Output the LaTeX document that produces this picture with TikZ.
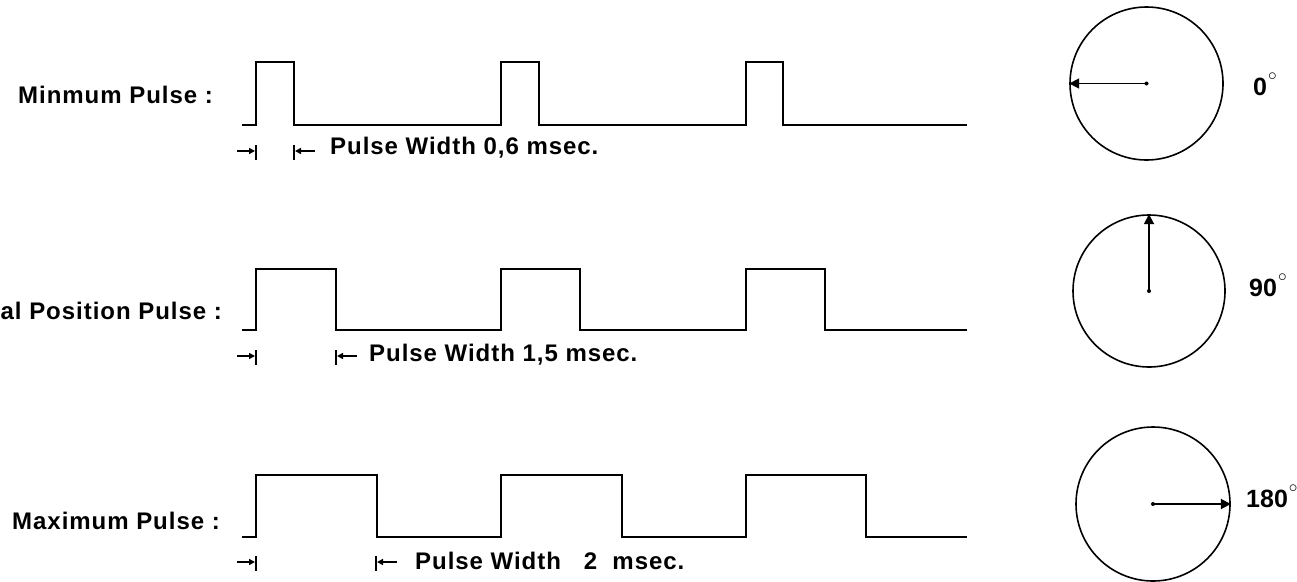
\documentclass[tikz,border=0pt]{standalone}
\usepackage{fontspec}
\setmainfont{Liberation Sans}
\newfontfamily\lblfont{Liberation Sans}[LetterSpace=4]
\usetikzlibrary{arrows.meta}
\tikzset{
  wave/.style={line width=2pt, line join=miter},
  dial/.style={circle, draw, line width=1.6pt, inner sep=0pt},
  needle/.style={line width=1.8pt, -{Triangle[length=10pt,width=10pt]}},
  hub/.style={circle, fill, inner sep=0pt, minimum size=4pt},
  widthmark/.style={line width=1.5pt, -{Triangle[length=6pt,width=6pt]}},
  markbar/.style={line width=1.5pt},
  lbl/.style={font=\lblfont\bfseries\fontsize{24}{26}\selectfont, inner sep=0pt},
  deg/.style={font=\bfseries\fontsize{25}{27}\selectfont, inner sep=0pt, anchor=west},
}
\newcommand{\degring}{\kern1pt\raisebox{15pt}{\fontsize{17}{17}\selectfont$\circ$}}
\begin{document}
\begin{tikzpicture}[x=1pt,y=-1pt]
\useasboundingbox (0,0) rectangle (1297,581);
% row labels
\node[lbl, anchor=east] (l1) at (213,95) {Minmum Pulse :};
\node[lbl, anchor=east] (l2) at (222,311) {al Position Pulse :};
\node[lbl, anchor=east] (l3) at (220,521) {Maximum Pulse :};
% waveforms
\draw[wave] (242,125) -- (256,125) -- (256,62) -- (294,62) -- (294,125) -- (501,125) -- (501,62) -- (539,62) -- (539,125) -- (746,125) -- (746,62) -- (783,62) -- (783,125) -- (967,125);
\draw[wave] (242,330) -- (256,330) -- (256,269) -- (336,269) -- (336,330) -- (501,330) -- (501,269) -- (580,269) -- (580,330) -- (746,330) -- (746,269) -- (825,269) -- (825,330) -- (967,330);
\draw[wave] (242,537) -- (256,537) -- (256,475) -- (377,475) -- (377,537) -- (501,537) -- (501,475) -- (622,475) -- (622,537) -- (746,537) -- (746,475) -- (866,475) -- (866,537) -- (967,537);
% width markers
\foreach \r/\y/\f in {1/151/294, 2/356/336, 3/562/376} {
  \coordinate (a\r s) at (237,\y);
  \coordinate (a\r e) at (255,\y);
  \coordinate (b\r s) at (\f+21,\y);
  \coordinate (b\r e) at (\f+1,\y);
  \draw[widthmark] (a\r s) -- (a\r e);
  \draw[markbar] (256,\y-6) -- (256,\y+9);
  \draw[widthmark] (b\r s) -- (b\r e);
  \draw[markbar] (\f,\y-6) -- (\f,\y+9);
}
\node[lbl, anchor=west] (t1) at (330,148) {Pulse Width 0,6 msec.};
\node[lbl, anchor=west] (t2) at (369,355) {Pulse Width 1,5 msec.};
\node[lbl, anchor=west] (t3) at (415,561) {Pulse Width\ \ \ 2\ \ msec.};
% dials
\node[dial, minimum size=153pt] (c1) at (1146.5,83.5) {};
\node[hub] (h1) at (c1.center) {};
\draw[needle] (c1.center) -- (c1.west);
\node[dial, minimum size=152pt] (c2) at (1149,291) {};
\node[hub] (h2) at (c2.center) {};
\draw[needle] (c2.center) -- (c2.north);
\node[dial, minimum size=154pt] (c3) at (1153,504) {};
\node[hub] (h3) at (c3.center) {};
\draw[needle] (c3.center) -- (c3.east);
\node[deg] (d1) at (1253,84) {0\degring};
\node[deg] (d2) at (1249,285) {90\degring};
\node[deg] (d3) at (1246,496) {180\degring};
\end{tikzpicture}
\end{document}
